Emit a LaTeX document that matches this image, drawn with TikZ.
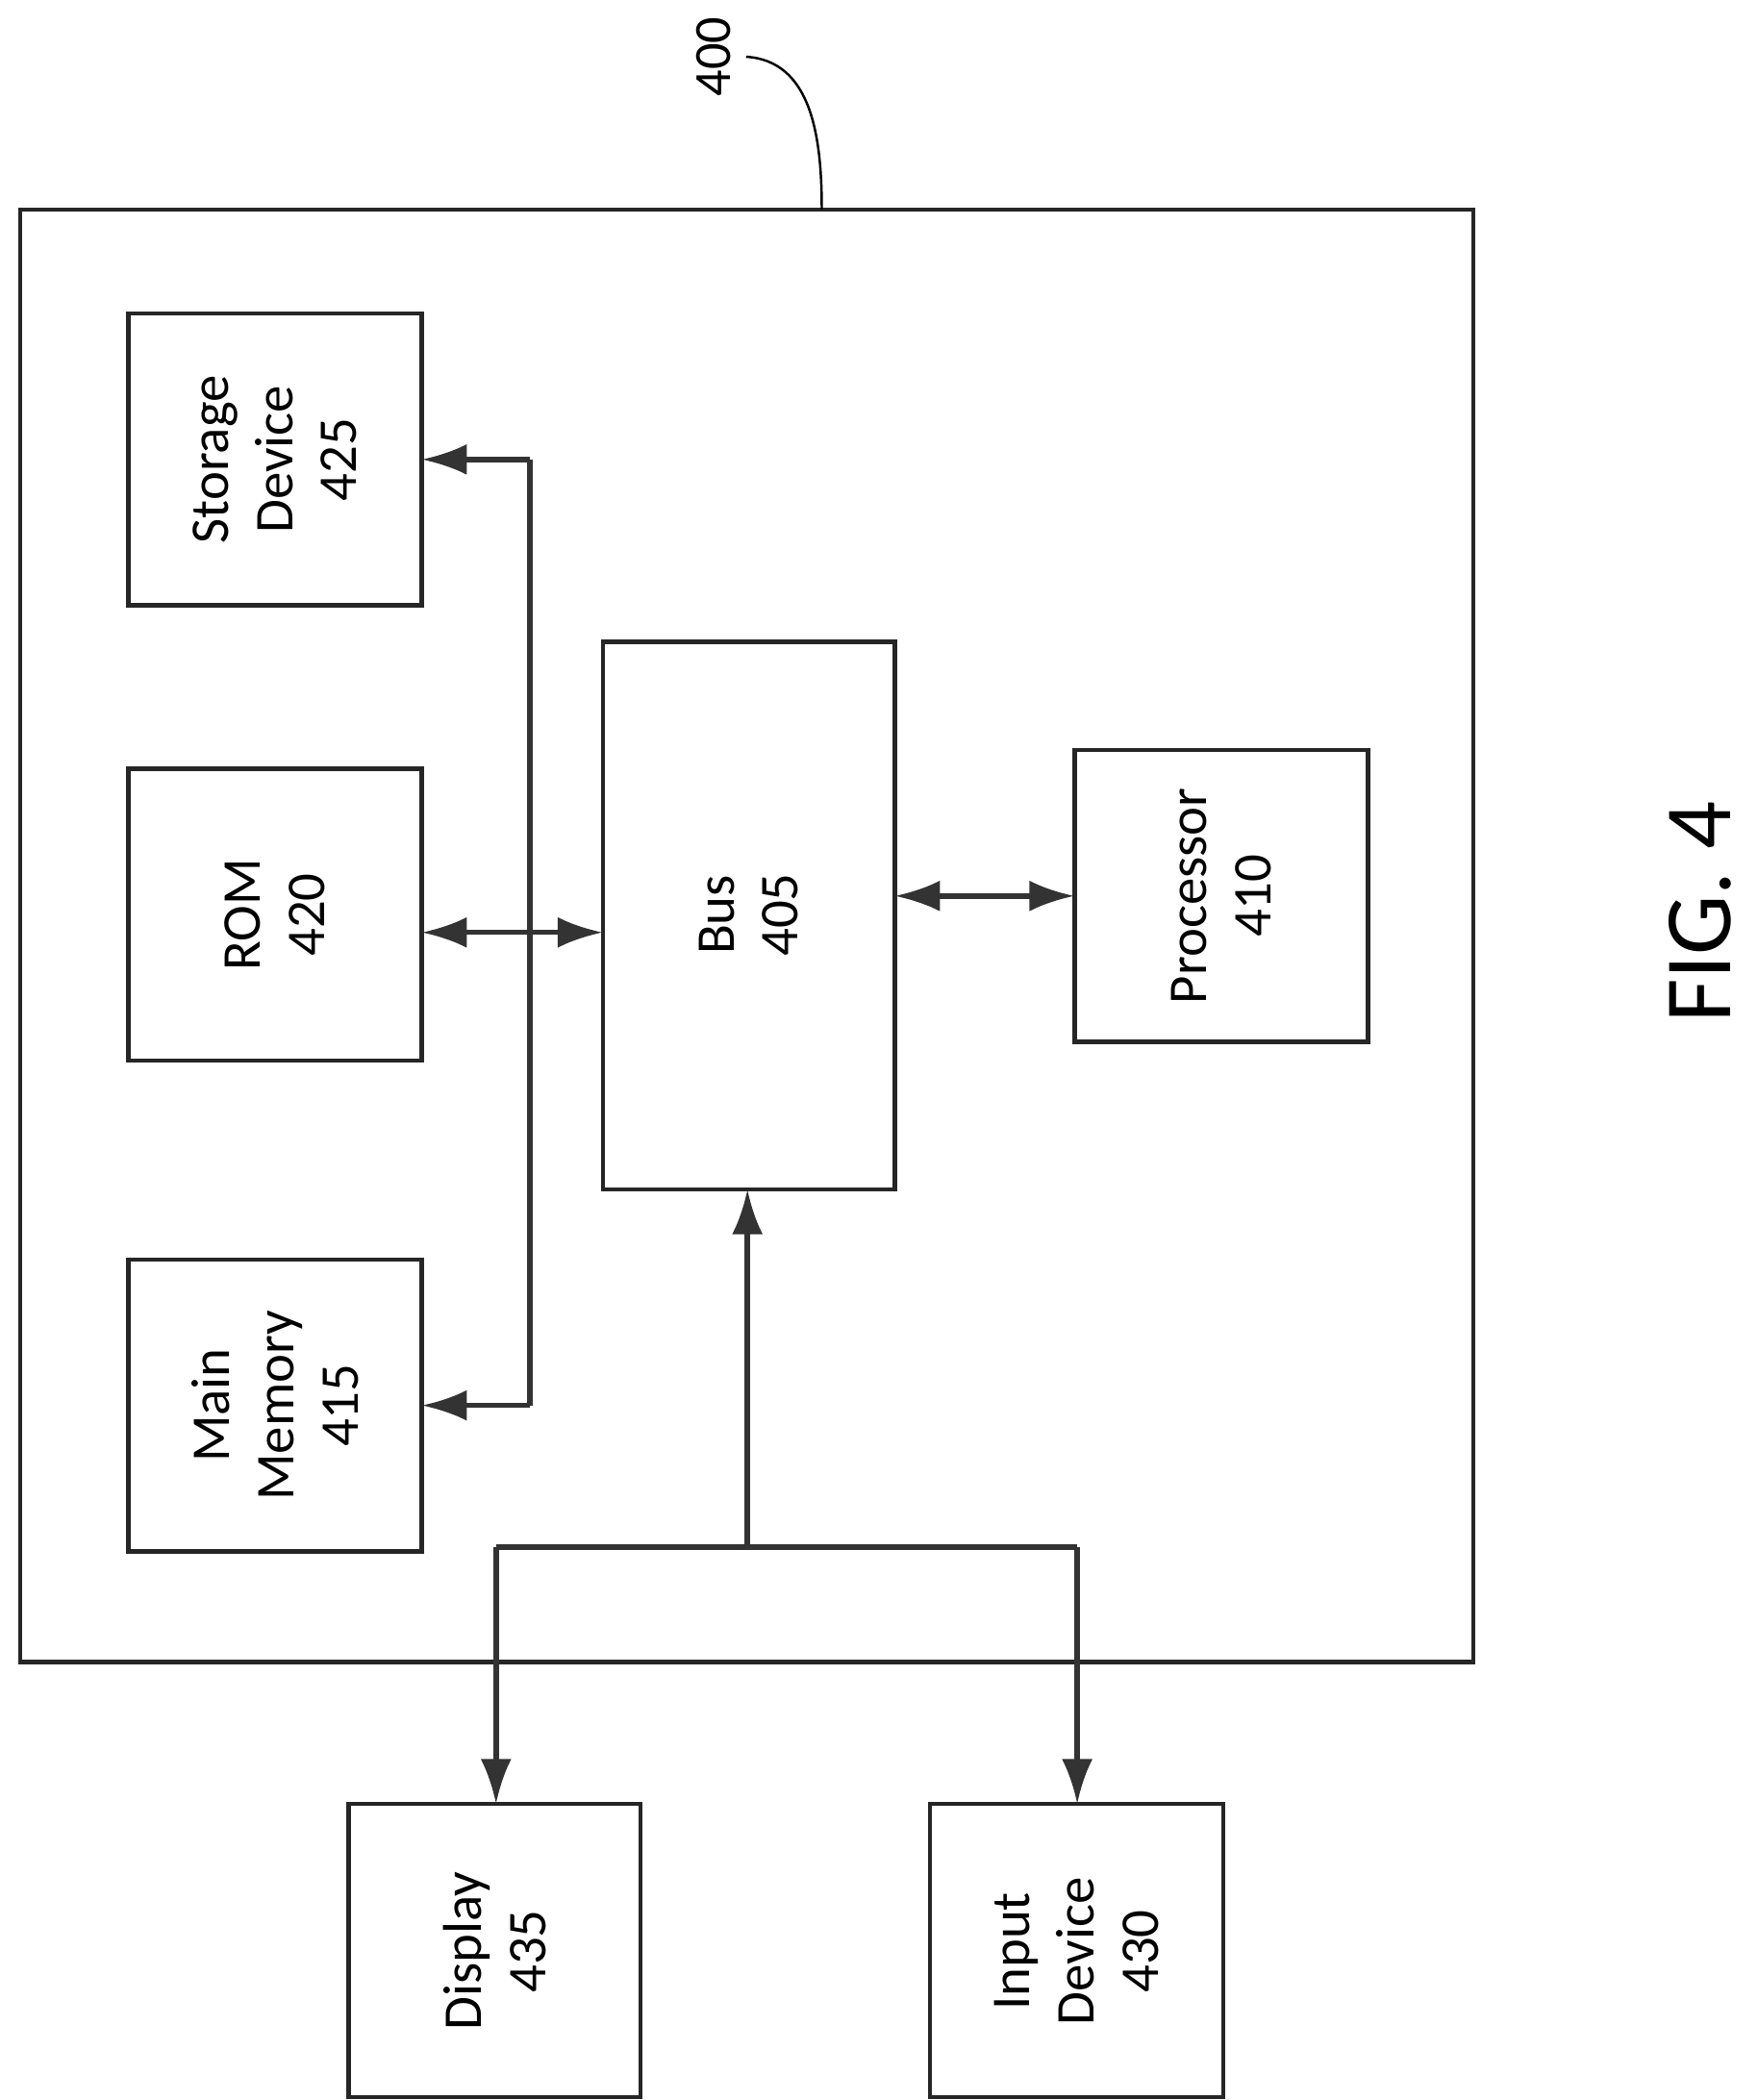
\documentclass[tikz,border=0pt]{standalone}
\usepackage{fontspec}
\setmainfont{Carlito}
\usetikzlibrary{arrows.meta}
\begin{document}
\begin{tikzpicture}[x=0.02cm,y=-0.02cm,
  ln/.style={draw=black!80,line width=2.2pt},
  box/.style={draw=black!85,line width=1.8pt},
  arr/.style={ln,-{Latex[length=19pt,width=13pt]}},
  darr/.style={ln,{Latex[length=19pt,width=13pt]}-{Latex[length=19pt,width=13pt]}},
  lbl/.style={rotate=90,align=center,font=\fontsize{23}{27}\selectfont}]
\useasboundingbox (0,0) rectangle (1300,1554);
\draw[box] (15,155) rectangle (1090,1230);
\draw[box] (95,232) rectangle (312,448) node[lbl] (st) at (203.5,340) {Storage\\Device\\425};
\draw[box] (95,569) rectangle (312,785) node[lbl] (rom) at (203.5,677) {ROM\\420};
\draw[box] (95,932) rectangle (312,1148) node[lbl] (mm) at (203.5,1040) {Main\\Memory\\415};
\draw[box] (446,475) rectangle (662,880) node[lbl] (bus) at (554,677) {Bus\\405};
\draw[box] (795,555) rectangle (1012,771) node[lbl] (pr) at (903.5,663) {Processor\\410};
\draw[box] (258,1335) rectangle (474,1552) node[lbl] (dp) at (366,1444) {Display\\435};
\draw[box] (688,1335) rectangle (905,1552) node[lbl] (in) at (796.5,1444) {Input\\Device\\430};
\coordinate (vt) at (392,340); \coordinate (vb) at (392,1040);
\coordinate (sE) at (312,340); \coordinate (mE) at (312,1040);
\draw[ln] (vt) -- (vb);
\draw[arr] (vt) -- (sE);
\draw[arr] (vb) -- (mE);
\coordinate (rE) at (312,690); \coordinate (bW) at (446,690);
\draw[darr] (rE) -- (bW);
\coordinate (bE) at (662,663); \coordinate (pW) at (795,663);
\draw[darr] (bE) -- (pW);
\coordinate (j) at (553,1145); \coordinate (bS) at (553,880);
\coordinate (hl) at (367,1145); \coordinate (hr) at (797,1145);
\draw[arr] (j) -- (bS);
\draw[ln] (hl) -- (hr);
\coordinate (dN) at (367,1335); \coordinate (iN) at (797,1335);
\draw[arr] (hl) -- (dN);
\draw[arr] (hr) -- (iN);
\node[rotate=90,font=\fontsize{22}{26}\selectfont] (n400) at (528,42) {400};
\coordinate (c1) at (552,42); \coordinate (c2) at (608,155);
\draw[line width=1pt] (c1) .. controls (600,45) and (608,100) .. (c2);
\node[rotate=90,font=\fontsize{40}{44}\selectfont] (fig) at (1258,675) {FIG. 4};
\end{tikzpicture}
\end{document}
